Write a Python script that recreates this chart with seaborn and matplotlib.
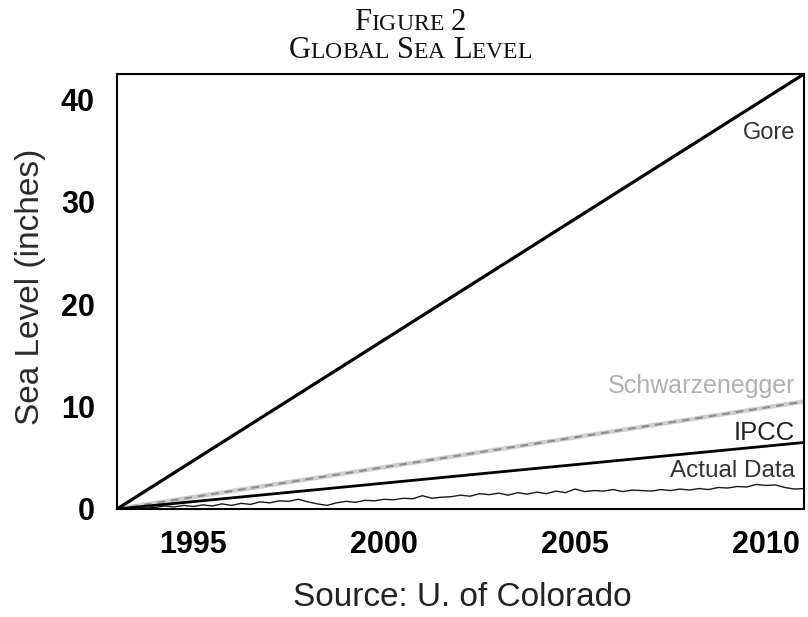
import numpy as np
import pandas as pd
import matplotlib
matplotlib.use("Agg")
import matplotlib.pyplot as plt
import seaborn as sns

# projections: straight lines from the 1993 start to the right edge of the chart
proj_years = [1993, 2011]
gore = [0, 42.5]
schwarzenegger = [0, 10.5]
ipcc = [0, 6.5]

actual_data = [0.0, 0.1, 0.05, 0.2, 0.15, 0.3, 0.2, 0.35, 0.25, 0.4, 0.3, 0.5,
               0.35, 0.55, 0.45, 0.7, 0.6, 0.8, 0.75, 0.95, 0.7, 0.5, 0.35, 0.6,
               0.75, 0.65, 0.85, 0.8, 0.95, 0.9, 1.05, 1.0, 1.3, 1.05, 1.15, 1.2,
               1.35, 1.25, 1.5, 1.4, 1.55, 1.35, 1.6, 1.45, 1.65, 1.5, 1.75, 1.6,
               1.95, 1.7, 1.8, 1.75, 1.9, 1.7, 1.85, 1.8, 1.75, 1.9, 1.8, 1.95,
               1.85, 2.0, 1.9, 2.1, 2.05, 2.2, 2.15, 2.4, 2.3, 2.35, 2.1, 1.95, 2.0]
actual_years = [1993 + 0.25 * i for i in range(len(actual_data))]

year_ticks = [1995, 2000, 2005, 2010]
level_ticks = [0, 10, 20, 30, 40]

sns.set_theme(style="white")
plt.rcParams["font.family"] = ["Liberation Sans", "DejaVu Sans"]

fig = plt.figure(figsize=(8.08, 6.17), dpi=100)
ax = fig.add_axes([117 / 808, 1 - 509 / 617, 687 / 808, 435 / 617])

# Schwarzenegger: soft grey line with darker dashes on top
sns.lineplot(x=proj_years, y=schwarzenegger, ax=ax, color="#cfcfcf", linewidth=3.2)
sns.lineplot(x=proj_years, y=schwarzenegger, ax=ax, color="#8a8a8a", linewidth=1.4,
             dashes=False, linestyle=(0, (4, 3)))
sns.lineplot(x=proj_years, y=gore, ax=ax, color="black", linewidth=2.3)
sns.lineplot(x=proj_years, y=ipcc, ax=ax, color="black", linewidth=2.0)
sns.lineplot(x=actual_years, y=actual_data, ax=ax, color="#1a1a1a", linewidth=1.0)

ax.set_xlim(1993, 2011)
ax.set_ylim(0, 42.5)
ax.set_xticks(year_ticks)
ax.set_yticks(level_ticks)
ax.tick_params(axis="both", length=0, labelsize=22, colors="black")
ax.tick_params(axis="x", pad=15)
ax.tick_params(axis="y", pad=16)
for lab in ax.get_xticklabels() + ax.get_yticklabels():
    lab.set_fontweight("bold")
for sp in ax.spines.values():
    sp.set_visible(True)
    sp.set_color("black")
    sp.set_linewidth(1.5)

ax.set_ylabel("Sea Level (inches)", fontsize=24, color="#2a2a2a")
ax.yaxis.set_label_coords(-0.103, 0.51)
ax.set_xlabel("")

# line labels, right aligned near the frame
lx = 2010.77
ax.text(lx, 36.7, "Gore", ha="right", va="center", fontsize=17, color="#333333")
ax.text(lx, 12.0, "Schwarzenegger", ha="right", va="center", fontsize=18, color="#b0b0b0")
ax.text(lx, 7.45, "IPCC", ha="right", va="center", fontsize=18.5, color="#222222")
ax.text(lx, 3.7, "Actual Data", ha="right", va="center", fontsize=17.5, color="#333333")

fig.text(462 / 808, 1 - 598 / 617, "Source: U. of Colorado", ha="center", va="center",
         fontsize=24, color="#222222")


# small caps title built from pieces (matplotlib has no real small caps)
def small_caps(text, xc, y, big, small):
    renderer = fig.canvas.get_renderer()
    parts = []
    for word in text.split(" "):
        for i, ch in enumerate(word):
            if i > 0 and ch.isalpha():
                parts.append((ch.upper(), small))
            else:
                parts.append((ch, big))
        parts.append((" ", None))
    parts = parts[:-1]
    items = []
    x = 0.0
    for s, size in parts:
        if size is None:
            x += 0.25 * big * 100 / 72
            continue
        t = fig.text(0, y, s, fontsize=size, family=["Liberation Serif"],
                     ha="left", va="baseline", color="#111111")
        w = t.get_window_extent(renderer).width
        items.append((t, x))
        x += w
    total = x
    start = xc * fig.bbox.width - total / 2
    for t, off in items:
        t.set_x((start + off) / fig.bbox.width)


small_caps("Figure 2", 410 / 808, 1 - 30 / 617, 22, 17)
small_caps("Global Sea Level", 410 / 808, 1 - 58 / 617, 22, 17)

fig.savefig("out.png", dpi=100, facecolor="white")
